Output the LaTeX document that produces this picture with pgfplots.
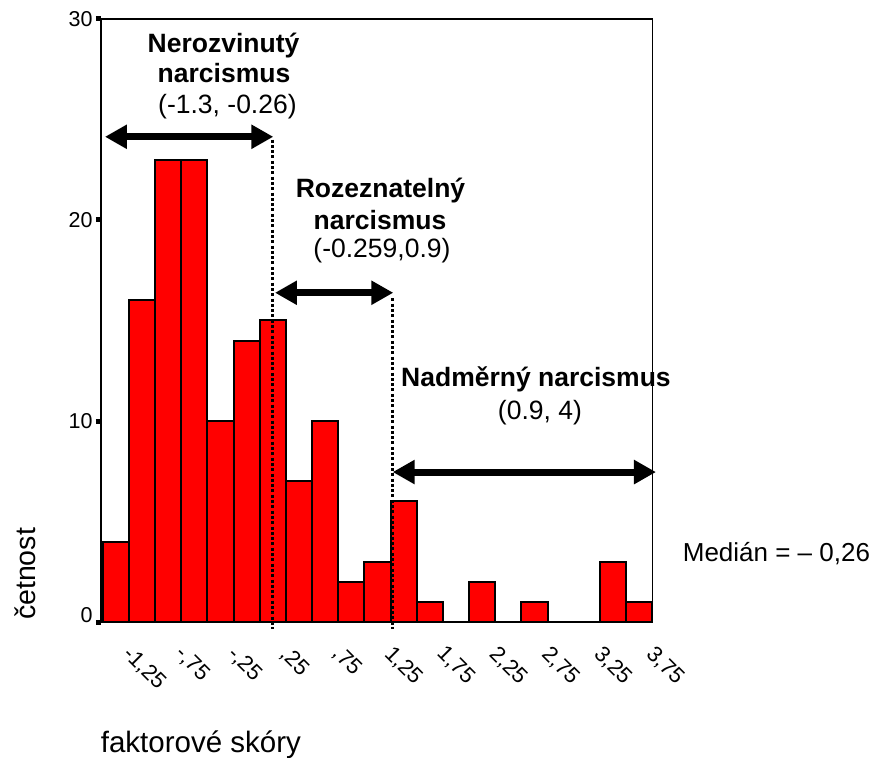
\documentclass[border=0pt]{standalone}
\usepackage{pgfplots}
\pgfplotsset{compat=1.18}
\usepackage{fontspec}
\setmainfont{Liberation Sans}
\usetikzlibrary{arrows.meta}
\definecolor{barred}{RGB}{255,0,0}
\begin{document}
\begin{tikzpicture}
\useasboundingbox (-101pt,-135pt) rectangle (781pt,622pt);
\begin{axis}[
  at={(0pt,0pt)}, anchor=south west,
  scale only axis, width=551.3pt, height=603pt,
  xmin=-1.516, xmax=3.75, ymin=0, ymax=30,
  axis lines=left,
  axis line style={-, line width=2pt, black},
  clip=false,
  ytick={0,10,20,30},
  yticklabels={\raisebox{15pt}{0},10,20,30},
  tick align=outside,
  major tick length=5pt,
  y tick style={line width=5pt, black},
  x tick style={draw=none},
  xtick={-1.25,-0.75,-0.25,0.25,0.75,1.25,1.75,2.25,2.75,3.25,3.75},
  xticklabels={{-1,25},{-,75},{-,25},{,25},{,75},{1,25},{1,75},{2,25},{2,75},{3,25},{3,75}},
  xticklabel style={xshift=4pt, yshift=-17pt, rotate=-45, anchor=north west, inner sep=0pt, font=\fontsize{22}{26}\selectfont},
  yticklabel style={font=\fontsize{21.5}{25}\selectfont},
]
\addplot[ybar, bar width=0.25, bar shift=0pt, fill=barred, draw=black, line width=2pt] coordinates {
  (-1.375,4) (-1.125,16) (-0.875,23) (-0.625,23) (-0.375,10) (-0.125,14)
  (0.125,15) (0.375,7) (0.625,10) (0.875,2) (1.125,3) (1.375,6)
  (1.625,1) (1.875,0) (2.125,2) (2.375,0) (2.625,1) (2.875,0)
  (3.125,0) (3.375,3) (3.625,1)
};
% top and right frame
\draw[line width=1.2pt] (rel axis cs:0,1) -- (rel axis cs:1,1) -- (rel axis cs:1,0);
% dotted lines
\draw[line width=3.2pt, line cap=butt, dash pattern=on 3pt off 2.3pt] (axis cs:0.124,24.0) -- (axis cs:0.124,-0.35);
\draw[line width=3.2pt, line cap=butt, dash pattern=on 3pt off 2.3pt] (axis cs:1.270,16.1) -- (axis cs:1.270,-0.35);
% arrows
\draw[{Triangle[length=22pt,width=23pt]}-{Triangle[length=22pt,width=23pt]}, line width=7pt] (axis cs:-1.478,24.14) -- (axis cs:0.130,24.14);
\draw[{Triangle[length=22pt,width=23pt]}-{Triangle[length=22pt,width=23pt]}, line width=7pt] (axis cs:0.146,16.38) -- (axis cs:1.276,16.38);
\draw[{Triangle[length=22pt,width=23pt]}-{Triangle[length=22pt,width=23pt]}, line width=7pt] (axis cs:1.270,7.46) -- (axis cs:3.785,7.46);
% annotation texts
\node[anchor=base, font=\fontsize{26.5}{31}\selectfont\bfseries] at (axis cs:-0.346,28.31) {Nerozvinutý};
\node[anchor=base, font=\fontsize{26.5}{31}\selectfont\bfseries] at (axis cs:-0.341,26.82) {narcismus};
\node[anchor=base, font=\fontsize{26.5}{31}\selectfont] at (axis cs:-0.308,25.32) {(-1.3, -0.26)};
\node[anchor=base, font=\fontsize{26.5}{31}\selectfont\bfseries] at (axis cs:1.154,21.14) {Rozeznatelný};
\node[anchor=base, font=\fontsize{26.5}{31}\selectfont\bfseries] at (axis cs:1.149,19.55) {narcismus};
\node[anchor=base, font=\fontsize{26.5}{31}\selectfont] at (axis cs:1.168,18.11) {(-0.259,0.9)};
\node[anchor=base, font=\fontsize{26.5}{31}\selectfont\bfseries] at (axis cs:2.639,11.71) {Nadměrný narcismus};
\node[anchor=base, font=\fontsize{26.5}{31}\selectfont] at (axis cs:2.677,10.05) {(0.9, 4)};
\node[anchor=base west, inner sep=0pt, font=\fontsize{26}{31}\selectfont] at (axis cs:4.040,3.0) {Medián = – 0,26};
% axis labels
\node[rotate=90, anchor=center, inner sep=0pt, font=\fontsize{28.5}{33}\selectfont] at (axis cs:-2.242,2.39) {četnost};
\node[anchor=base west, inner sep=0pt, font=\fontsize{29.5}{34}\selectfont] at (axis cs:-1.519,-6.50) {faktorové skóry};
\end{axis}
\end{tikzpicture}
\end{document}
